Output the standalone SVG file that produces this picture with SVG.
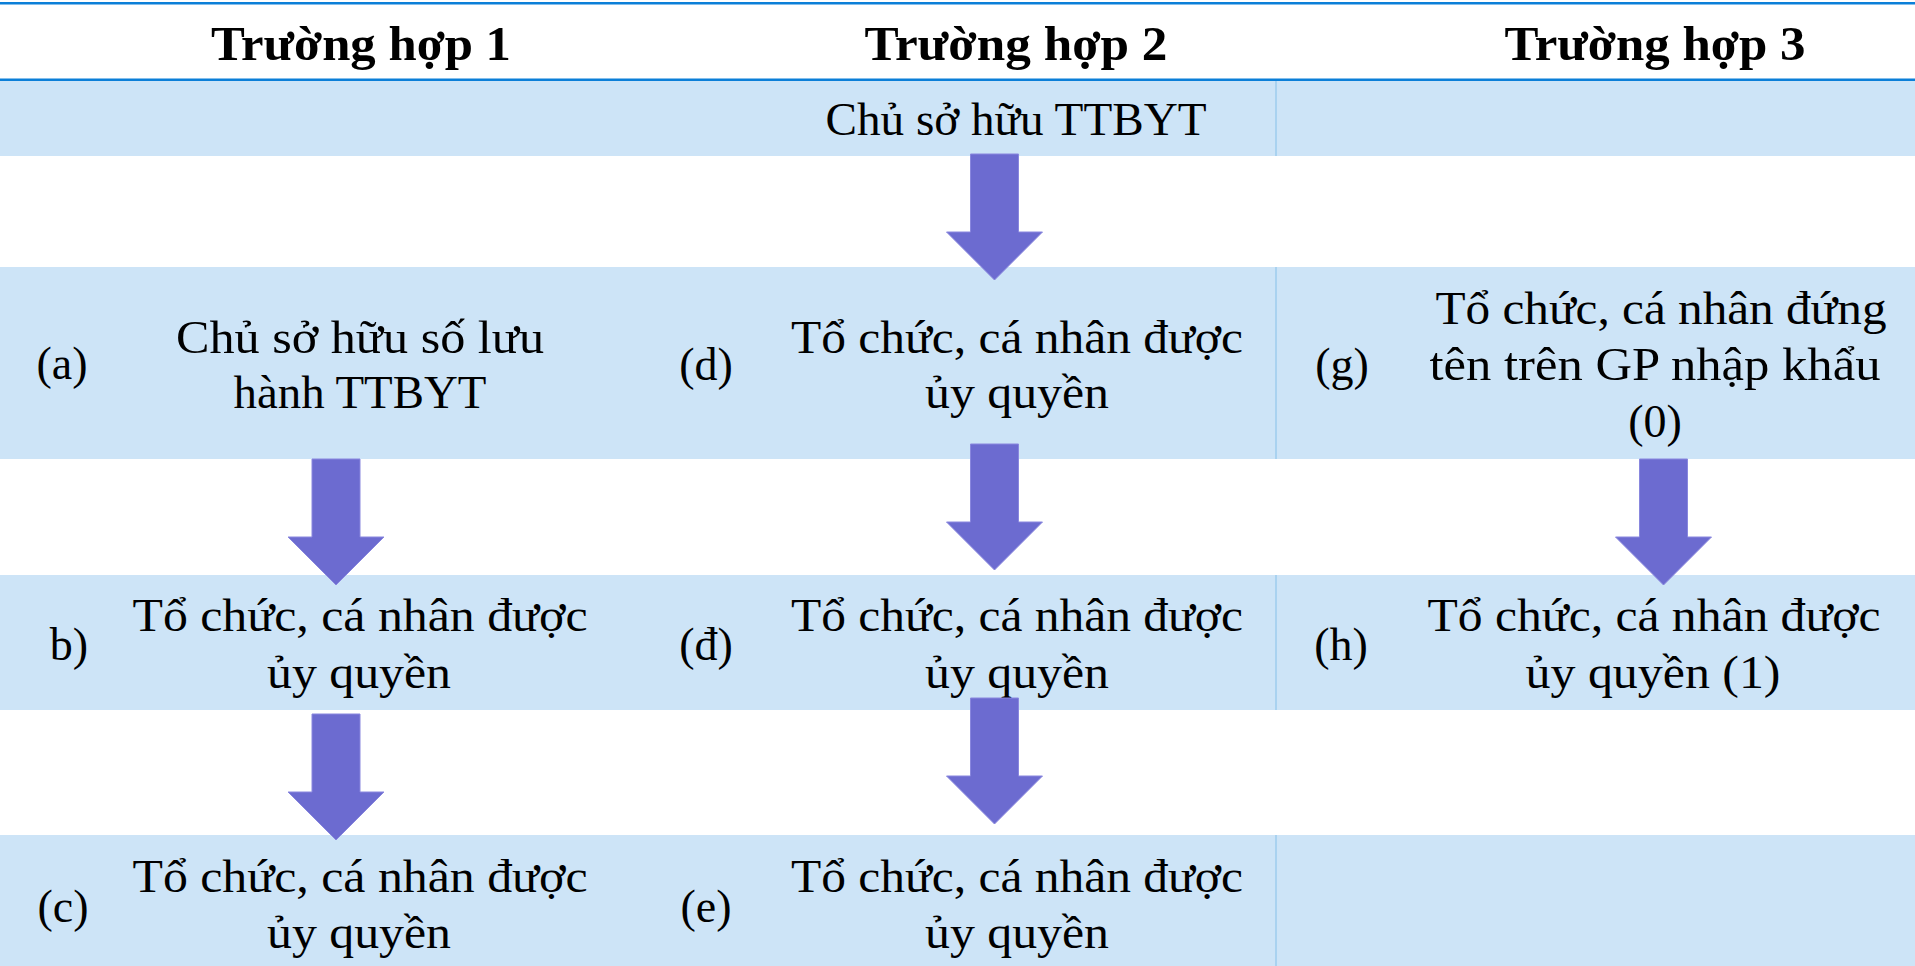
<svg xmlns="http://www.w3.org/2000/svg" width="1915" height="966" viewBox="0 0 1915 966">
  <defs>
    <style>
      .band { fill: #CDE4F7; }
      .vsep { stroke: #9DCDEE; stroke-width: 1.5; }
      .hline { stroke: #0B7FD8; stroke-width: 2.6; }
      .hdr { font-family: "Liberation Serif", "Times New Roman", serif; font-weight: bold; font-size: 48px; fill: #000; text-anchor: middle; }
      .txt { font-family: "Liberation Serif", "Times New Roman", serif; font-size: 46px; fill: #000; text-anchor: middle; }
      .arrow { fill: #6C6BD0; stroke: #8987DE; stroke-width: 1; }
    </style>
    <path id="downArrow" d="M-24,0 H24 V78 H48 L0,126 L-48,78 H-24 Z"/>
  </defs>

  <rect width="1915" height="966" fill="#FFFFFF"/>

  <!-- bands -->
  <g id="bands">
    <rect class="band" x="0" y="81" width="1915" height="75"/>
    <rect class="band" x="0" y="267" width="1915" height="192"/>
    <rect class="band" x="0" y="575" width="1915" height="135"/>
    <rect class="band" x="0" y="835" width="1915" height="131"/>
    <line class="vsep" x1="1276" y1="81" x2="1276" y2="156"/>
    <line class="vsep" x1="1276" y1="267" x2="1276" y2="459"/>
    <line class="vsep" x1="1276" y1="575" x2="1276" y2="710"/>
    <line class="vsep" x1="1276" y1="835" x2="1276" y2="966"/>
    <line class="hline" x1="0" y1="3.2" x2="1915" y2="3.2"/>
    <line class="hline" x1="0" y1="79.8" x2="1915" y2="79.8"/>
  </g>

  <!-- header -->
  <g id="header1"><text class="hdr" x="361" y="60" textLength="300" lengthAdjust="spacingAndGlyphs">Trường hợp 1</text></g>
  <g id="header2"><text class="hdr" x="1016" y="60" textLength="303" lengthAdjust="spacingAndGlyphs">Trường hợp 2</text></g>
  <g id="header3"><text class="hdr" x="1655" y="60" textLength="301" lengthAdjust="spacingAndGlyphs">Trường hợp 3</text></g>

  <!-- Trường hợp 2: top node -->
  <g id="node-owner">
    <text class="txt" x="1016" y="135" textLength="381" lengthAdjust="spacingAndGlyphs">Chủ sở hữu TTBYT</text>
  </g>

  <!-- Trường hợp 1 -->
  <g id="node-a">
    <text class="txt" x="62" y="379">(a)</text>
    <text class="txt" x="360" y="353" textLength="368" lengthAdjust="spacingAndGlyphs">Chủ sở hữu số lưu</text>
    <text class="txt" x="360" y="408" textLength="253" lengthAdjust="spacingAndGlyphs">hành TTBYT</text>
  </g>
  <g id="node-b">
    <text class="txt" x="69" y="660">b)</text>
    <text class="txt" x="360" y="631" textLength="455" lengthAdjust="spacingAndGlyphs">Tổ chức, cá nhân được</text>
    <text class="txt" x="359" y="688" textLength="184" lengthAdjust="spacingAndGlyphs">ủy quyền</text>
  </g>
  <g id="node-c">
    <text class="txt" x="63" y="922">(c)</text>
    <text class="txt" x="360" y="892" textLength="455" lengthAdjust="spacingAndGlyphs">Tổ chức, cá nhân được</text>
    <text class="txt" x="359" y="948" textLength="184" lengthAdjust="spacingAndGlyphs">ủy quyền</text>
  </g>

  <!-- Trường hợp 2 -->
  <g id="node-d">
    <text class="txt" x="706" y="380">(d)</text>
    <text class="txt" x="1017" y="353" textLength="452" lengthAdjust="spacingAndGlyphs">Tổ chức, cá nhân được</text>
    <text class="txt" x="1017" y="408" textLength="184" lengthAdjust="spacingAndGlyphs">ủy quyền</text>
  </g>
  <g id="node-dd">
    <text class="txt" x="706" y="660">(đ)</text>
    <text class="txt" x="1017" y="631" textLength="452" lengthAdjust="spacingAndGlyphs">Tổ chức, cá nhân được</text>
    <text class="txt" x="1017" y="688" textLength="184" lengthAdjust="spacingAndGlyphs">ủy quyền</text>
  </g>
  <g id="node-e">
    <text class="txt" x="706" y="922">(e)</text>
    <text class="txt" x="1017" y="892" textLength="452" lengthAdjust="spacingAndGlyphs">Tổ chức, cá nhân được</text>
    <text class="txt" x="1017" y="948" textLength="184" lengthAdjust="spacingAndGlyphs">ủy quyền</text>
  </g>

  <!-- Trường hợp 3 -->
  <g id="node-g">
    <text class="txt" x="1342" y="380">(g)</text>
    <text class="txt" x="1661" y="324" textLength="451" lengthAdjust="spacingAndGlyphs">Tổ chức, cá nhân đứng</text>
    <text class="txt" x="1655" y="380" textLength="451" lengthAdjust="spacingAndGlyphs">tên trên GP nhập khẩu</text>
    <text class="txt" x="1655" y="437">(0)</text>
  </g>
  <g id="node-h">
    <text class="txt" x="1341" y="660">(h)</text>
    <text class="txt" x="1654" y="631" textLength="453" lengthAdjust="spacingAndGlyphs">Tổ chức, cá nhân được</text>
    <text class="txt" x="1653" y="688" textLength="255" lengthAdjust="spacingAndGlyphs">ủy quyền (1)</text>
  </g>

  <!-- connectors -->
  <g id="connectors">
    <use href="#downArrow" class="arrow" transform="translate(994.5,154)"/>
    <use href="#downArrow" class="arrow" transform="translate(336,459)"/>
    <use href="#downArrow" class="arrow" transform="translate(336,714)"/>
    <use href="#downArrow" class="arrow" transform="translate(994.5,444)"/>
    <use href="#downArrow" class="arrow" transform="translate(994.5,698)"/>
    <use href="#downArrow" class="arrow" transform="translate(1663.5,459)"/>
  </g>
</svg>
